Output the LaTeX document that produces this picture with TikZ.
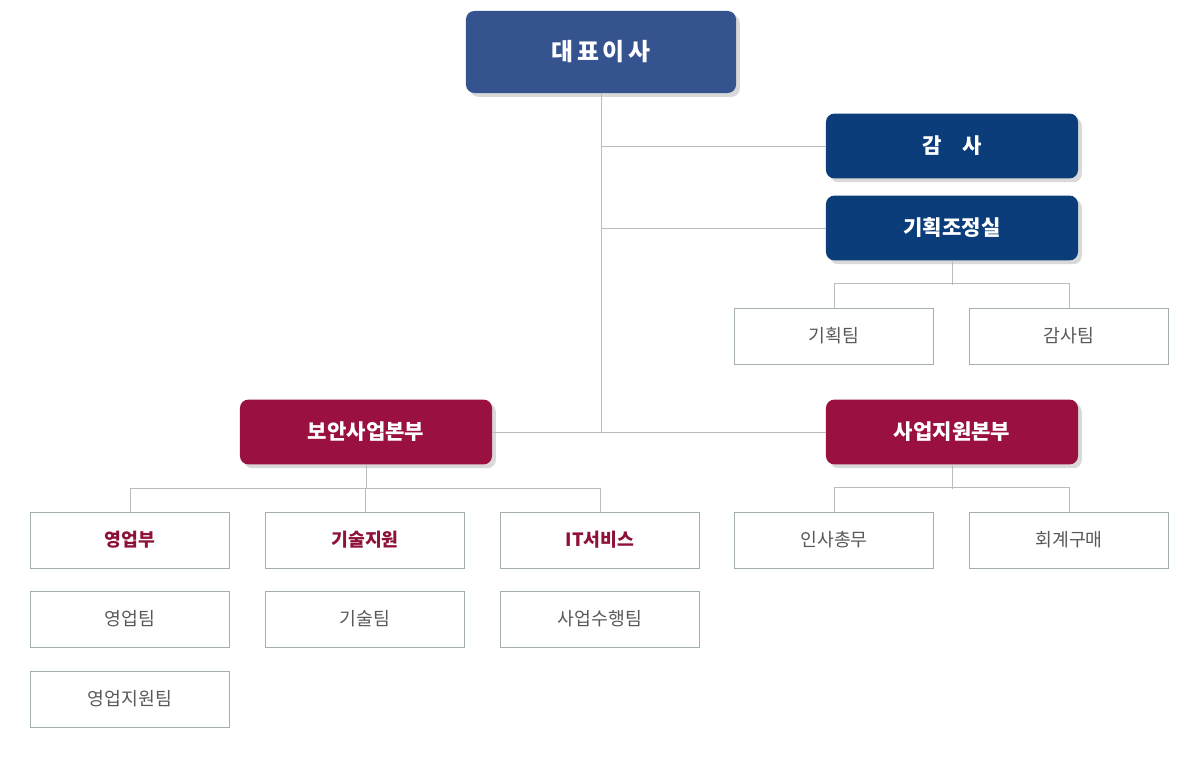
\documentclass[tikz,border=0pt]{standalone}
\usepackage{fontspec}
\setmainfont{Noto Sans CJK KR}
\usetikzlibrary{positioning,shadows,calc}
\definecolor{ceoblue}{HTML}{34538F}
\definecolor{navy}{HTML}{0B3D7A}
\definecolor{crimson}{HTML}{9A1040}
\definecolor{redtext}{HTML}{8E1238}
\definecolor{boxline}{HTML}{A3B0A6}
\definecolor{wire}{HTML}{BBBBBB}
\tikzset{
  head/.style={rounded corners=6pt, minimum width=6.3cm, minimum height=1.62cm,
    text=white, font=\fontsize{15}{17}\selectfont\bfseries, drop shadow={opacity=0.3}},
  team/.style={draw=boxline, fill=white, minimum width=4.97cm, minimum height=1.4cm,
    text=black!65, font=\fontsize{13}{15}\selectfont, drop shadow={opacity=0.2,shadow xshift=0.5pt,shadow yshift=-1pt}},
  dept/.style={team, text=redtext, font=\fontsize{13}{15}\selectfont\bfseries},
  wire/.style={draw=wire, line width=0.5pt}
}
\begin{document}
\begin{tikzpicture}[x=0.025cm, y=-0.025cm]
    \useasboundingbox (0,0) rectangle (1200,760);
    \node[head, fill=ceoblue, minimum width=6.75cm, minimum height=2.05cm,
          font=\fontsize{17}{19}\selectfont\bfseries] (ceo) at (601,52) {대\,표\,이\,사};
    \node[head, fill=navy] (audit) at (952,146) {감\quad 사};
    \node[head, fill=navy] (plan) at (952,228) {기획조정실};
    \node[team] (planteam) at (834,336) {기획팀};
    \node[team] (auditteam) at (1069,336) {감사팀};
    \node[head, fill=crimson] (sec) at (366,432) {보안사업본부};
    \node[head, fill=crimson] (sup) at (952,432) {사업지원본부};

    \node[dept] (sales) at (130,540) {영업부};
    \node[dept] (tech) at (365,540) {기술지원};
    \node[dept] (its) at (600,540) {IT서비스};
    \node[team] (hr) at (834,540) {인사총무};
    \node[team] (acct) at (1069,540) {회계구매};
    \node[team] (salesteam) at (130,619) {영업팀};
    \node[team] (techteam) at (365,619) {기술팀};
    \node[team] (proj) at (600,619) {사업수행팀};
    \node[team] (salessup) at (130,699) {영업지원팀};

    % trunk
    \coordinate (hub) at (601,432);
    \draw[wire] (ceo.south) -- (hub);
    \draw[wire] (ceo.south |- audit.west) -- (audit.west);
    \draw[wire] (ceo.south |- plan.west) -- (plan.west);
    \draw[wire] (sec.east) -- (sup.west);
    % branches
    \foreach \top/\l/\r in {plan/planteam/auditteam, sup/hr/acct} {
      \draw[wire] (\top.south) -- ++(0,24);
      \draw[wire] (\l.north) ++(0,-24) -| (\l.north);
      \draw[wire] (\l.north) ++(0,-24) -- ++(235,0) -- (\r.north);
    }
    \draw[wire] (sec.south) -- ++(0,24) coordinate (bar);
    \draw[wire] (sales.north) -- (sales.north |- bar) -- (its.north |- bar) -- (its.north);
    \draw[wire] (tech.north) -- (tech.north |- bar);
\end{tikzpicture}
\end{document}
